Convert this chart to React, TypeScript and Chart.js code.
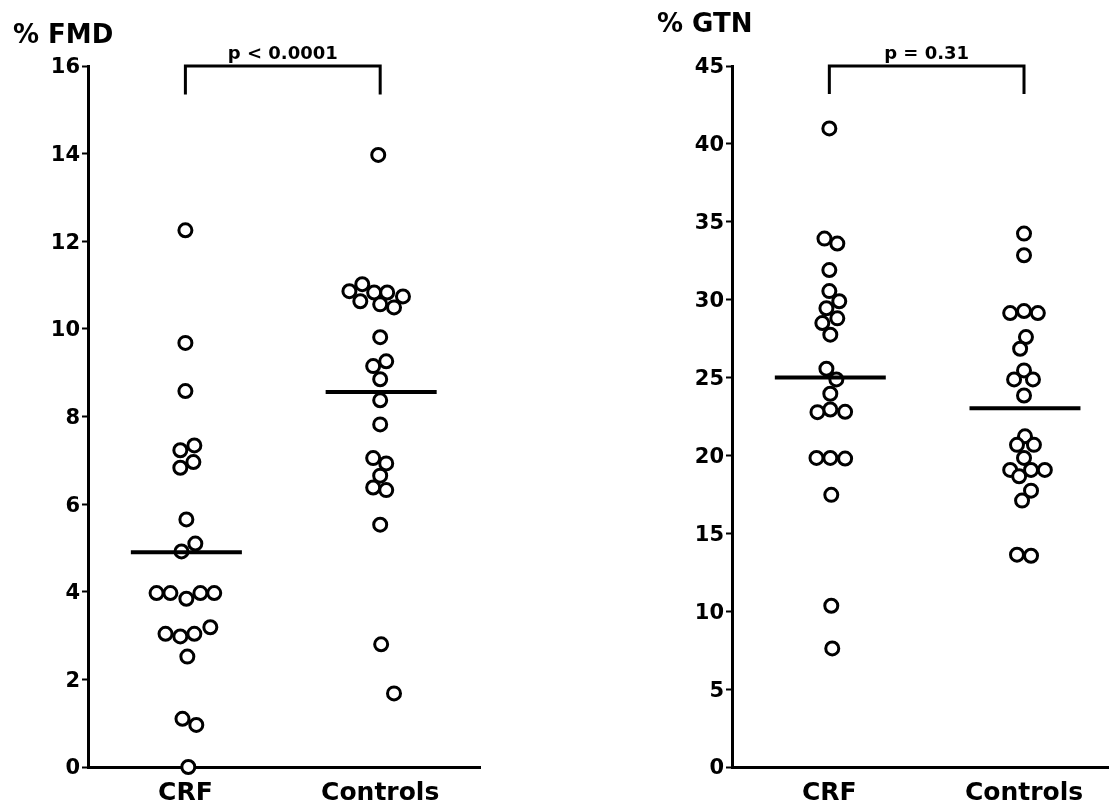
import React, { useEffect, useRef } from "react";
import { Chart, registerables } from "chart.js";

Chart.register(...registerables);

// ---- data ----
const CATEGORIES = ["CRF", "Controls"];

const FMD_TITLE = "% FMD";
const FMD_P = "p < 0.0001";
const FMD_Y_TICKS = [0, 2, 4, 6, 8, 10, 12, 14, 16];
const FMD_CRF = [12.25, 9.68, 8.58, 7.23, 7.34, 6.96, 6.83, 5.65, 5.1, 4.92, 3.97, 3.97, 3.84, 3.97, 3.97, 3.04, 2.98, 3.04, 3.19, 2.52, 1.1, 0.96, 0];
const FMD_CRF_X = [0, 0, 0, -0.026, 0.046, 0.041, -0.026, 0.005, 0.051, -0.02, -0.148, -0.077, 0.005, 0.077, 0.148, -0.102, -0.026, 0.046, 0.128, 0.01, -0.015, 0.056, 0.015];
const FMD_CTL = [13.97, 10.86, 11.02, 10.83, 10.83, 10.74, 10.63, 10.56, 10.49, 9.81, 9.26, 9.15, 8.85, 8.37, 7.82, 7.05, 6.93, 6.65, 6.38, 6.32, 5.53, 2.8, 1.68];
const FMD_CTL_X = [-0.01, -0.158, -0.092, -0.031, 0.036, 0.117, -0.102, 0, 0.071, 0, 0.031, -0.036, 0, 0, 0, -0.036, 0.031, 0, -0.036, 0.031, 0, 0.005, 0.071];
const FMD_MEANS = [4.9, 8.56];
const FMD_BRACKET = [15.35, 16];

const GTN_TITLE = "% GTN";
const GTN_P = "p = 0.31";
const GTN_Y_TICKS = [0, 5, 10, 15, 20, 25, 30, 35, 40, 45];
const GTN_CRF = [40.99, 33.92, 33.6, 31.9, 30.55, 29.9, 29.45, 28.8, 28.5, 27.75, 25.57, 24.88, 23.96, 22.95, 22.78, 22.8, 19.84, 19.84, 19.8, 17.47, 10.35, 7.61];
const GTN_CRF_X = [0, -0.025, 0.041, 0, 0, 0.051, -0.015, 0.041, -0.036, 0.005, -0.015, 0.036, 0.005, 0.005, -0.061, 0.081, -0.066, 0.005, 0.081, 0.01, 0.01, 0.015];
const GTN_CTL = [34.24, 32.85, 29.14, 29.27, 29.14, 27.6, 26.85, 25.46, 24.88, 24.88, 23.85, 21.23, 20.68, 20.68, 19.84, 19.07, 19.07, 19.07, 18.66, 17.74, 17.1, 13.63, 13.56];
const GTN_CTL_X = [0, 0, -0.071, 0, 0.071, 0.01, -0.02, 0, -0.051, 0.046, 0, 0.005, -0.036, 0.051, 0, -0.071, 0.036, 0.107, -0.025, 0.036, -0.01, -0.036, 0.036];
const GTN_MEANS = [25.0, 23.03];
const GTN_BRACKET = [43.2, 45];

const FONT = "'DejaVu Sans', 'Liberation Sans', sans-serif";

type PanelProps = {
  left: number;
  width: number;
  padRight: number;
  xMax: number;
  title: string;
  titleX: number;
  titleBaseline: number;
  pText: string;
  yTicks: number[];
  crf: number[];
  crfX: number[];
  ctl: number[];
  ctlX: number[];
  means: number[];
  bracket: number[];
};

function Panel(p: PanelProps) {
  const ref = useRef<HTMLCanvasElement>(null);
  useEffect(() => {
    if (!ref.current) return;
    const pts = (vals: number[], offs: number[], c: number) =>
      vals.map((v, i) => ({ x: c + offs[i], y: v }));
    const yMin = p.yTicks[0];
    const yMax = p.yTicks[p.yTicks.length - 1];
    const textPlugin = {
      id: "texts",
      afterDraw(chart: any) {
        const ctx = chart.ctx;
        const xs = chart.scales.x;
        const ys = chart.scales.y;
        ctx.save();
        ctx.fillStyle = "#000";
        ctx.textAlign = "left";
        ctx.textBaseline = "alphabetic";
        ctx.font = `bold 26px ${FONT}`;
        ctx.fillText(p.title, p.titleX, p.titleBaseline);
        ctx.font = `bold 18px ${FONT}`;
        ctx.textAlign = "center";
        ctx.fillText(p.pText, xs.getPixelForValue(1.5), ys.getPixelForValue(p.bracket[1]) - 7);
        ctx.restore();
      },
    };
    const lineDs = (data: any[], w: number) => ({
      data,
      showLine: true,
      borderColor: "#000",
      borderWidth: w,
      pointRadius: 0,
      pointHoverRadius: 0,
      clip: false as any,
      order: 0,
      borderCapStyle: "butt" as any,
      borderJoinStyle: "miter" as any,
    });
    const chart = new Chart(ref.current, {
      type: "scatter",
      data: {
        datasets: [
          lineDs([{ x: 1 - 0.28, y: p.means[0] }, { x: 1 + 0.29, y: p.means[0] }], 4),
          lineDs([{ x: 2 - 0.28, y: p.means[1] }, { x: 2 + 0.29, y: p.means[1] }], 4),
          lineDs(
            [
              { x: 1, y: p.bracket[0] },
              { x: 1, y: p.bracket[1] },
              { x: 2, y: p.bracket[1] },
              { x: 2, y: p.bracket[0] },
            ],
            3
          ),
          {
            data: [...pts(p.crf, p.crfX, 1), ...pts(p.ctl, p.ctlX, 2)],
            pointRadius: 6.5,
            pointHoverRadius: 6.5,
            borderWidth: 3,
            borderColor: "#000",
            backgroundColor: "#fff",
            clip: false as any,
            order: 1,
          },
        ],
      },
      options: {
        animation: false,
        responsive: false,
        maintainAspectRatio: false,
        layout: { padding: { top: 66, right: p.padRight, left: 0, bottom: 0 } },
        plugins: { legend: { display: false }, tooltip: { enabled: false } },
        events: [],
        scales: {
          x: {
            type: "linear",
            min: 0.5,
            max: p.xMax,
            afterBuildTicks: (s: any) => {
              s.ticks = CATEGORIES.map((_, i) => ({ value: i + 1 }));
            },
            afterFit: (s: any) => {
              s.height = 43;
            },
            grid: { display: true, drawOnChartArea: false, drawTicks: false },
            border: { display: true, color: "#000", width: 3 },
            ticks: {
              callback: (v: any) => CATEGORIES[Math.round(Number(v)) - 1] ?? "",
              font: { family: FONT, size: 25, weight: "bold" },
              color: "#000",
              padding: 11,
              maxRotation: 0,
              autoSkip: false,
            },
          },
          y: {
            type: "linear",
            min: yMin,
            max: yMax,
            afterBuildTicks: (s: any) => {
              s.ticks = p.yTicks.map((v) => ({ value: v }));
            },
            afterFit: (s: any) => {
              s.width = 88;
            },
            grid: { display: true, drawOnChartArea: false, drawTicks: true, tickLength: 6, tickWidth: 2, tickColor: "#000" },
            border: { display: true, color: "#000", width: 3 },
            ticks: {
              font: { family: FONT, size: 21, weight: "bold" },
              color: "#000",
              padding: 2,
              labelOffset: 2,
            },
          },
        },
      } as any,
      plugins: [textPlugin],
    });
    return () => chart.destroy();
  }, []);
  return (
    <canvas
      ref={ref}
      width={p.width}
      height={810}
      style={{ position: "absolute", left: p.left, top: 0, width: p.width, height: 810 }}
    />
  );
}

export default function App() {
  return (
    <div style={{ position: "absolute", left: 0, top: 0, width: 1118, height: 810, background: "#fff", overflow: "hidden" }}>
      <Panel
        left={0}
        width={490}
        padRight={7}
        xMax={2.515}
        title={FMD_TITLE}
        titleX={13}
        titleBaseline={43}
        pText={FMD_P}
        yTicks={FMD_Y_TICKS}
        crf={FMD_CRF}
        crfX={FMD_CRF_X}
        ctl={FMD_CTL}
        ctlX={FMD_CTL_X}
        means={FMD_MEANS}
        bracket={FMD_BRACKET}
      />
      <Panel
        left={644}
        width={474}
        padRight={5}
        xMax={2.434}
        title={GTN_TITLE}
        titleX={13}
        titleBaseline={32}
        pText={GTN_P}
        yTicks={GTN_Y_TICKS}
        crf={GTN_CRF}
        crfX={GTN_CRF_X}
        ctl={GTN_CTL}
        ctlX={GTN_CTL_X}
        means={GTN_MEANS}
        bracket={GTN_BRACKET}
      />
    </div>
  );
}
